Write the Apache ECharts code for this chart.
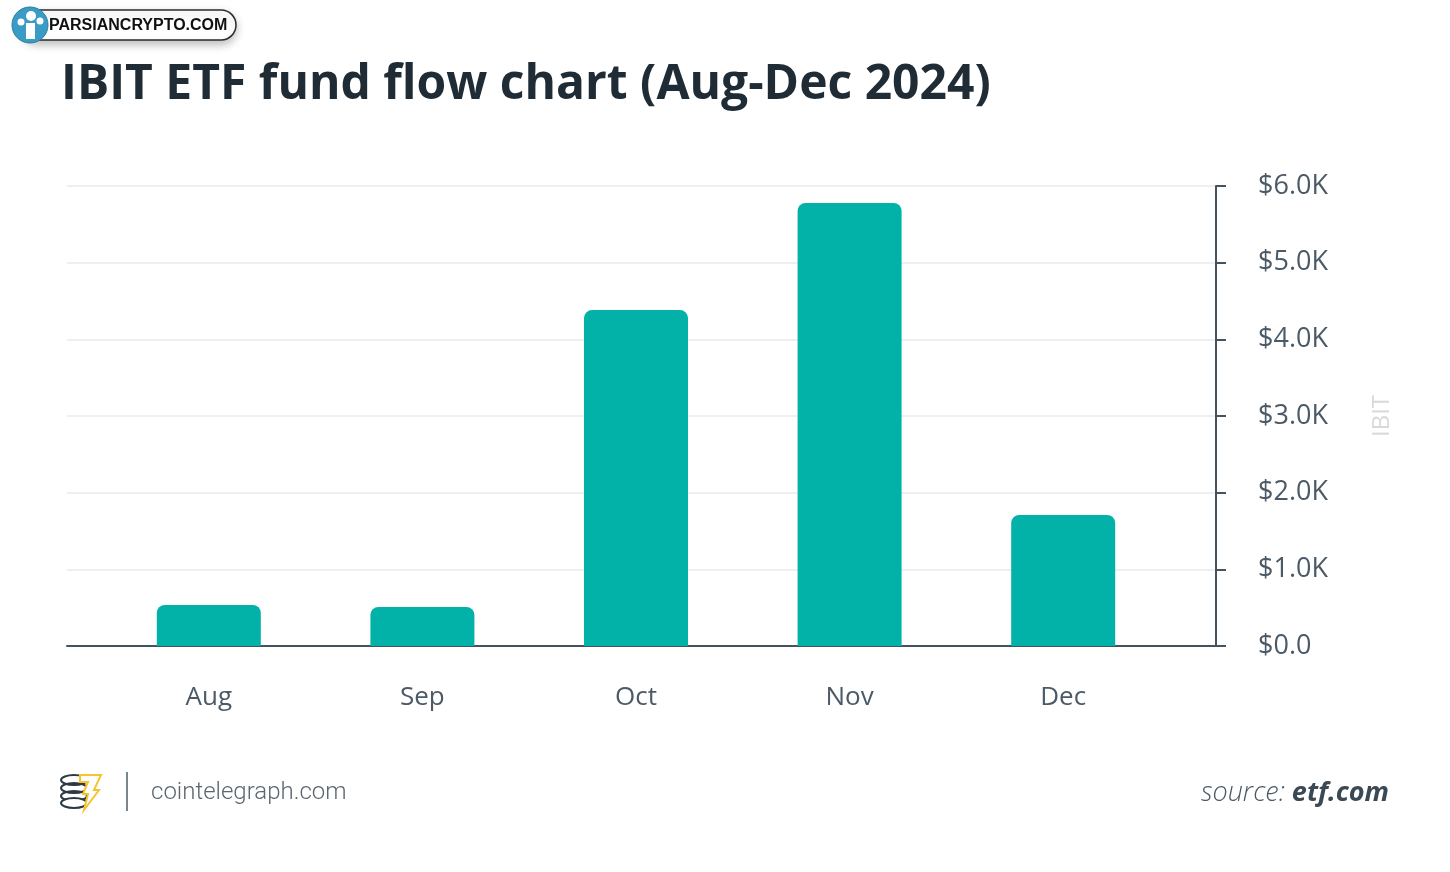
<!DOCTYPE html>
<html>
<head>
<meta charset="utf-8">
<script src="https://cdn.jsdelivr.net/npm/echarts@6/dist/echarts.min.js"></script>
<style>
html,body{margin:0;padding:0;background:#fff;}
#c{width:1450px;height:872px;}
</style>
</head>
<body>
<div id="c"></div>
<script>
const categories = ['Aug', 'Sep', 'Oct', 'Nov', 'Dec'];
const flows = [535, 509, 4382, 5778, 1709];
const yTicks = [0, 1000, 2000, 3000, 4000, 5000, 6000];
const titleText = 'IBIT ETF fund flow chart (Aug-Dec 2024)';
const seriesName = 'IBIT';

const chart = echarts.init(document.getElementById('c'), null, {renderer: 'canvas'});
const labelColor = '#4b5a66';
const axisColor = '#45535e';
const FONT = '"Open Sans", "Noto Sans", sans-serif';

const option = {
  backgroundColor: '#ffffff',
  animation: false,
  grid: [
    {left: 67, right: 234, top: 186, bottom: 226, containLabel: false},
    {left: 102, right: 280, top: 186, bottom: 226, containLabel: false}
  ],
  xAxis: [
    {type: 'value', gridIndex: 0, min: 0, max: 1, show: true,
     axisLine: {show: true, onZero: false, lineStyle: {color: axisColor, width: 2}},
     axisTick: {show: false}, axisLabel: {show: false}, splitLine: {show: false}},
    {type: 'category', gridIndex: 1, data: categories,
     axisLine: {show: false}, axisTick: {show: false},
     axisLabel: {color: labelColor, fontSize: 26, fontFamily: FONT, margin: 39}}
  ],
  yAxis: [
    {type: 'value', gridIndex: 0, position: 'right', min: yTicks[0], max: yTicks[yTicks.length - 1], interval: 1000,
     name: seriesName, nameLocation: 'middle', nameRotate: 90, nameGap: 154,
     nameTextStyle: {color: '#d9d9d9', fontSize: 24, fontFamily: FONT},
     axisLine: {show: true, onZero: false, lineStyle: {color: axisColor, width: 2}},
     axisTick: {show: true, length: 10, lineStyle: {color: axisColor, width: 2}},
     axisLabel: {color: labelColor, fontSize: 27, fontFamily: FONT, margin: 42,
       formatter: v => '$' + (v / 1000).toFixed(1) + (v === 0 ? '' : 'K')},
     splitLine: {show: true, lineStyle: {color: '#efefef', width: 2}}},
    {type: 'value', gridIndex: 1, min: yTicks[0], max: yTicks[yTicks.length - 1], interval: 1000, show: false}
  ],
  series: [{
    type: 'bar', name: seriesName, xAxisIndex: 1, yAxisIndex: 1,
    data: flows, barWidth: 104,
    itemStyle: {color: '#02b2a8', borderRadius: [8, 8, 0, 0]}
  }],
  graphic: [
    {type: 'text', left: 61, top: 61, style: {text: titleText, fill: '#1f2c35',
      font: 'bold 48px ' + FONT}},
    // watermark pill
    {type: 'rect', shape: {x: 22, y: 10, width: 214, height: 30, r: 15},
     style: {fill: '#fff', stroke: '#2b2b2b', lineWidth: 1.5, shadowBlur: 8, shadowColor: 'rgba(0,0,0,0.25)', shadowOffsetY: 4}},
    {type: 'text', left: 49, top: 18, style: {text: 'PARSIANCRYPTO.COM', fill: '#111', font: 'bold 16px "Liberation Sans", Arial, sans-serif'}},
    {type: 'circle', shape: {cx: 30, cy: 25, r: 18}, style: {fill: '#3a9cc4', stroke: '#2c7ea0', lineWidth: 1}},
    {type: 'circle', shape: {cx: 31, cy: 16, r: 5}, style: {fill: '#fff'}},
    {type: 'circle', shape: {cx: 21, cy: 22, r: 3.5}, style: {fill: '#fff'}},
    {type: 'circle', shape: {cx: 40, cy: 21, r: 3.5}, style: {fill: '#fff'}},
    {type: 'rect', shape: {x: 26, y: 23, width: 9, height: 16}, style: {fill: '#fff'}},
    // cointelegraph logo
    {type: 'ellipse', shape: {cx: 74, cy: 780, rx: 13, ry: 5}, style: {fill: 'none', stroke: '#2d3a44', lineWidth: 2}},
    {type: 'ellipse', shape: {cx: 74, cy: 788, rx: 13, ry: 5}, style: {fill: 'none', stroke: '#2d3a44', lineWidth: 2}},
    {type: 'ellipse', shape: {cx: 74, cy: 796, rx: 13, ry: 5}, style: {fill: 'none', stroke: '#2d3a44', lineWidth: 2}},
    {type: 'ellipse', shape: {cx: 74, cy: 803, rx: 13, ry: 5}, style: {fill: '#fff', stroke: '#2d3a44', lineWidth: 2}},
    {type: 'polygon', shape: {points: [[80, 775], [101, 775], [94, 790], [99, 790], [84, 810], [88, 794], [83, 794], [88, 782], [80, 782]]},
     style: {fill: '#fff', stroke: '#f4c531', lineWidth: 2}},
    {type: 'line', shape: {x1: 127, y1: 772, x2: 127, y2: 811}, style: {stroke: '#7a858c', lineWidth: 2}},
    {type: 'text', left: 151, top: 781, style: {text: 'cointelegraph.com', fill: '#5b6770', font: '300 24px Roboto, sans-serif'}},
    {type: 'text', right: 61, top: 780, style: {
      rich: {a: {fill: '#4b5963', font: 'italic 300 27px ' + FONT}, b: {fill: '#3b4954', font: 'italic bold 27px ' + FONT}},
      text: '{a|source: }{b|etf.com}'}}
  ]
};
chart.setOption(option);
</script>
</body>
</html>
